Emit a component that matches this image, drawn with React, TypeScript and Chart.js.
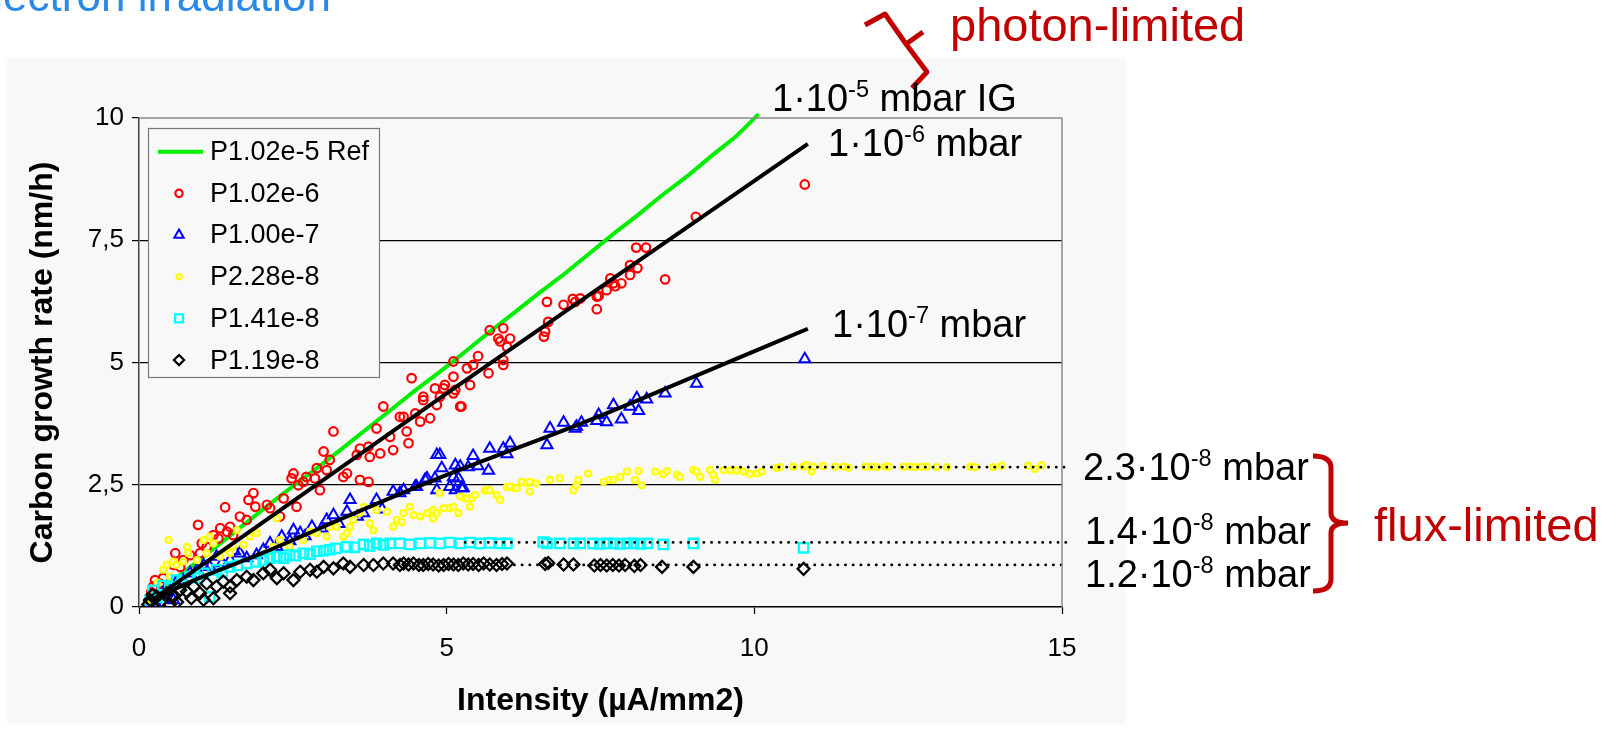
import React, { useEffect, useRef } from 'react';
import { Chart, registerables } from 'chart.js';

Chart.register(...registerables);

// ---------- tick labels ----------
const xTickLabels = ['0', '5', '10', '15'];
const yTickLabels = ['0', '2,5', '5', '7,5', '10'];

// ---------- series: P1.02e-5 Ref (green line) ----------
const refX = [0.2, 0.5, 0.9, 1.3, 1.7, 2.1, 2.5, 2.9, 3.3, 3.7, 4.1, 4.5, 4.9, 5.3, 5.7, 6.1, 6.5, 6.9, 7.3, 7.7, 8.1, 8.5, 8.9, 9.3, 9.7, 10.07];
const refY = [0.25, 0.5, 0.88, 1.28, 1.68, 2.08, 2.47, 2.85, 3.24, 3.64, 4.04, 4.44, 4.82, 5.22, 5.63, 6.02, 6.42, 6.8, 7.21, 7.62, 8.01, 8.42, 8.8, 9.22, 9.62, 10.08];

// ---------- P1.02e-6 (red circles) ----------
const p6X = [0.15, 0.2, 0.23, 0.26, 0.3, 0.34, 0.39, 0.45, 0.56, 0.59, 0.67, 0.72, 0.83, 0.96, 0.99, 1.02, 1.1, 1.21, 1.29, 1.32, 1.4, 1.43, 1.48, 1.53, 1.64, 1.75, 1.78, 1.86, 1.89, 2.08, 2.13, 2.29, 2.35, 2.48, 2.51, 2.56, 2.59, 2.67, 2.72, 2.86, 2.89, 2.94, 3.0, 3.05, 3.1, 3.16, 3.32, 3.38, 3.54, 3.59, 3.59, 3.73, 3.73, 3.75, 3.86, 3.92, 3.97, 4.08, 4.13, 4.24, 4.3, 4.35, 4.38, 4.43, 4.49, 4.57, 4.62, 4.62, 4.73, 4.81, 4.84, 4.89, 4.95, 4.97, 5.11, 5.11, 5.11, 5.14, 5.22, 5.24, 5.33, 5.38, 5.43, 5.51, 5.68, 5.7, 5.84, 5.87, 5.92, 5.92, 5.92, 5.98, 6.03, 6.58, 6.6, 6.65, 6.63, 6.9, 7.05, 7.09, 7.17, 7.44, 7.44, 7.47, 7.6, 7.66, 7.71, 7.74, 7.84, 7.98, 7.98, 8.1, 8.08, 8.24, 8.55, 9.05, 10.82];
const p6Y = [0.12, 0.3, 0.42, 0.55, 0.2, 0.48, 0.59, 0.35, 0.86, 1.1, 0.82, 0.96, 1.06, 1.68, 1.1, 1.3, 1.23, 1.47, 1.4, 1.61, 2.04, 1.54, 1.64, 1.47, 1.85, 1.78, 2.19, 2.33, 2.05, 2.09, 2.02, 1.85, 2.22, 2.63, 2.73, 2.05, 2.49, 2.56, 2.66, 2.63, 2.84, 2.39, 3.18, 2.8, 3.01, 3.59, 2.66, 2.73, 3.11, 3.24, 2.6, 3.28, 2.56, 3.07, 3.65, 3.14, 4.1, 3.48, 3.21, 3.89, 3.89, 3.59, 3.35, 4.68, 3.96, 3.79, 4.23, 4.3, 3.86, 4.47, 4.13, 4.3, 4.47, 4.54, 4.37, 4.71, 5.02, 4.44, 4.1, 4.1, 4.88, 4.54, 4.95, 5.13, 4.78, 5.66, 5.49, 5.43, 5.7, 5.05, 4.95, 5.32, 5.49, 5.53, 5.63, 5.83, 6.24, 6.18, 6.3, 6.24, 6.31, 6.35, 6.09, 6.36, 6.48, 6.72, 6.62, 6.56, 6.62, 6.79, 6.99, 6.93, 7.35, 7.35, 6.7, 7.98, 8.64];

// ---------- P1.00e-7 (blue triangles) ----------
const p7X = [0.18, 0.25, 0.3, 0.39, 0.45, 0.56, 0.6, 0.72, 0.83, 0.94, 1.05, 1.15, 1.26, 1.35, 1.48, 1.55, 1.64, 1.75, 1.91, 2.02, 2.13, 2.24, 2.32, 2.45, 2.51, 2.62, 2.7, 2.81, 2.97, 3.05, 3.16, 3.25, 3.38, 3.43, 3.55, 3.65, 3.86, 3.95, 4.13, 4.24, 4.3, 4.49, 4.51, 4.65, 4.68, 4.81, 4.84, 4.84, 4.89, 4.92, 5.05, 5.11, 5.14, 5.14, 5.19, 5.22, 5.24, 5.27, 5.35, 5.43, 5.51, 5.68, 5.7, 5.92, 5.98, 6.03, 6.63, 6.68, 6.9, 7.09, 7.11, 7.19, 7.44, 7.47, 7.6, 7.71, 7.84, 7.98, 8.09, 8.12, 8.25, 8.55, 9.06, 10.82];
const p7Y = [0.05, 0.15, 0.0, 0.28, 0.4, 0.14, 0.5, 0.55, 0.69, 0.76, 0.85, 0.82, 1.03, 0.9, 0.96, 1.15, 1.1, 1.0, 1.06, 1.17, 1.3, 1.23, 1.44, 1.35, 1.57, 1.51, 1.45, 1.64, 1.61, 1.78, 1.88, 1.7, 1.95, 2.19, 1.85, 1.92, 2.19, 2.0, 2.36, 2.33, 2.39, 2.46, 2.46, 2.6, 2.63, 2.63, 3.11, 2.39, 3.11, 2.84, 2.46, 2.66, 2.9, 2.39, 2.63, 2.87, 2.43, 2.43, 2.86, 3.09, 2.88, 2.79, 3.24, 3.24, 3.13, 3.35, 3.31, 3.65, 3.77, 3.65, 3.69, 3.77, 3.81, 3.93, 3.78, 4.13, 3.84, 4.1, 4.27, 4.01, 4.25, 4.37, 4.57, 5.07];

// ---------- P2.28e-8 (yellow dots) ----------
const p228X = [0.2, 0.3, 0.39, 0.45, 0.48, 0.5, 0.56, 0.61, 0.72, 0.78, 0.8, 0.94, 1.05, 1.1, 1.15, 1.21, 1.32, 1.43, 1.48, 1.53, 1.59, 1.7, 1.8, 1.91, 2.08, 2.18, 2.24, 2.29, 2.45, 2.67, 2.78, 2.89, 3.05, 3.1, 3.21, 3.32, 3.38, 3.43, 3.48, 3.59, 3.65, 3.75, 3.81, 3.86, 4.03, 4.13, 4.19, 4.27, 4.3, 4.4, 4.46, 4.57, 4.68, 4.78, 4.78, 4.84, 4.89, 4.95, 5.05, 5.11, 5.19, 5.22, 5.3, 5.33, 5.38, 5.41, 5.46, 5.62, 5.65, 5.7, 5.81, 5.87, 5.98, 6.03, 6.11, 6.14, 6.22, 6.3, 6.35, 6.35, 6.46, 6.68, 6.84, 7.06, 7.11, 7.14, 7.3, 7.55, 7.65, 7.71, 7.82, 7.93, 8.06, 8.12, 8.17, 8.39, 8.52, 8.58, 8.74, 8.79, 9.01, 9.06, 9.12, 9.28, 9.33, 9.36, 9.5, 9.61, 9.71, 9.82, 9.93, 10.04, 10.12, 10.36, 10.42, 10.63, 10.8, 10.85, 10.93, 10.96, 11.12, 11.31, 11.45, 11.53, 11.8, 11.91, 11.99, 12.13, 12.18, 12.42, 12.53, 12.61, 12.72, 12.8, 12.96, 13.13, 13.51, 13.59, 13.88, 14.02, 14.45, 14.56, 14.67];
const p228Y = [0.15, 0.5, 0.76, 0.86, 1.37, 0.62, 0.93, 0.86, 0.93, 1.23, 1.1, 0.96, 1.37, 1.1, 1.44, 1.3, 1.03, 1.17, 1.1, 1.23, 1.57, 1.27, 1.44, 1.51, 1.1, 1.23, 1.81, 1.37, 1.23, 1.37, 1.54, 1.51, 1.44, 1.64, 1.64, 1.44, 1.51, 1.64, 1.78, 1.92, 2.05, 1.71, 1.57, 1.98, 1.95, 1.64, 1.78, 1.74, 1.92, 2.05, 1.88, 1.85, 1.92, 1.98, 1.81, 1.92, 2.33, 2.02, 2.02, 2.05, 1.92, 2.26, 2.22, 2.22, 2.05, 2.22, 2.29, 2.38, 2.39, 2.39, 2.29, 2.19, 2.45, 2.46, 2.43, 2.43, 2.56, 2.53, 2.36, 2.56, 2.53, 2.6, 2.63, 2.39, 2.49, 2.6, 2.73, 2.56, 2.6, 2.6, 2.66, 2.77, 2.6, 2.78, 2.49, 2.77, 2.72, 2.78, 2.7, 2.66, 2.8, 2.77, 2.66, 2.8, 2.7, 2.6, 2.8, 2.79, 2.79, 2.77, 2.72, 2.73, 2.77, 2.84, 2.86, 2.87, 2.87, 2.9, 2.77, 2.87, 2.88, 2.87, 2.87, 2.85, 2.87, 2.87, 2.86, 2.87, 2.87, 2.87, 2.87, 2.86, 2.87, 2.87, 2.86, 2.86, 2.87, 2.86, 2.86, 2.89, 2.89, 2.82, 2.9];

// ---------- P1.41e-8 (cyan squares) ----------
const p141X = [0.18, 0.23, 0.3, 0.39, 0.5, 0.61, 0.7, 0.83, 0.95, 1.05, 1.15, 1.26, 1.35, 1.48, 1.6, 1.75, 1.9, 2.02, 2.13, 2.24, 2.35, 2.45, 2.55, 2.67, 2.78, 2.89, 3.0, 3.1, 3.2, 3.38, 3.5, 3.65, 3.75, 3.86, 3.97, 4.08, 4.24, 4.4, 4.57, 4.73, 4.89, 5.05, 5.22, 5.38, 5.54, 5.7, 5.87, 5.98, 6.57, 6.63, 6.84, 7.06, 7.17, 7.38, 7.49, 7.6, 7.71, 7.82, 7.93, 8.04, 8.15, 8.26, 8.52, 9.01, 10.8];
const p141Y = [0.14, 0.34, 0.2, 0.44, 0.4, 0.55, 0.5, 0.62, 0.6, 0.69, 0.21, 0.76, 0.7, 0.82, 0.85, 0.89, 0.92, 0.96, 1.0, 1.03, 1.0, 1.06, 1.05, 1.1, 1.08, 1.14, 1.15, 1.17, 1.2, 1.23, 1.22, 1.28, 1.25, 1.3, 1.27, 1.3, 1.3, 1.28, 1.3, 1.31, 1.3, 1.32, 1.3, 1.32, 1.3, 1.31, 1.3, 1.3, 1.33, 1.3, 1.3, 1.3, 1.3, 1.3, 1.29, 1.3, 1.3, 1.29, 1.3, 1.3, 1.29, 1.3, 1.28, 1.3, 1.21];

// ---------- P1.19e-8 (black diamonds) ----------
const p119X = [0.15, 0.18, 0.22, 0.29, 0.35, 0.45, 0.5, 0.56, 0.62, 0.67, 0.78, 0.85, 0.89, 0.99, 1.05, 1.1, 1.21, 1.26, 1.37, 1.48, 1.48, 1.59, 1.75, 1.86, 2.02, 2.13, 2.24, 2.35, 2.51, 2.62, 2.78, 2.89, 3.0, 3.16, 3.32, 3.43, 3.65, 3.81, 3.97, 4.13, 4.24, 4.3, 4.38, 4.46, 4.55, 4.62, 4.7, 4.78, 4.87, 4.95, 5.03, 5.11, 5.19, 5.27, 5.35, 5.43, 5.52, 5.6, 5.7, 5.81, 5.9, 5.98, 6.6, 6.65, 6.9, 7.06, 7.4, 7.5, 7.6, 7.7, 7.8, 7.9, 8.05, 8.15, 8.5, 9.01, 10.8];
const p119Y = [0.05, 0.14, 0.25, 0.21, 0.1, 0.28, 0.05, 0.21, 0.1, 0.35, 0.31, 0.18, 0.42, 0.28, 0.15, 0.48, 0.18, 0.42, 0.52, 0.28, 0.42, 0.55, 0.62, 0.55, 0.69, 0.76, 0.59, 0.69, 0.55, 0.72, 0.76, 0.72, 0.82, 0.79, 0.89, 0.82, 0.86, 0.86, 0.89, 0.89, 0.86, 0.89, 0.87, 0.89, 0.86, 0.86, 0.88, 0.87, 0.85, 0.86, 0.88, 0.87, 0.86, 0.89, 0.87, 0.88, 0.86, 0.89, 0.87, 0.86, 0.88, 0.89, 0.88, 0.9, 0.87, 0.87, 0.85, 0.86, 0.85, 0.86, 0.85, 0.86, 0.84, 0.86, 0.82, 0.82, 0.78];

// ---------- fit lines ----------
const fit6X = [0.2, 5.0, 10.87];
const fit6Y = [0.13, 4.37, 9.47];
const fit7X = [0.2, 0.4, 0.9, 2.0, 3.6, 5.0, 7.2, 9.0, 10.87];
const fit7Y = [0.1, 0.25, 0.55, 1.1, 1.97, 2.7, 3.76, 4.7, 5.69];

// ---------- dotted saturation levels ----------
const sat23X = [9.4, 15.1];
const sat23Y = [2.86, 2.86];
const sat14X = [5.3, 15.1];
const sat14Y = [1.32, 1.32];
const sat12X = [6.1, 15.1];
const sat12Y = [0.86, 0.86];

const legendLabels = ['P1.02e-5 Ref', 'P1.02e-6', 'P1.00e-7', 'P2.28e-8', 'P1.41e-8', 'P1.19e-8'];

const FONT = '"Liberation Sans", Arial, sans-serif';

const pts = (xs: number[], ys: number[]) => xs.map((x, i) => ({ x, y: ys[i] }));

function drawMarker(ctx: CanvasRenderingContext2D, style: string, x: number, y: number, r: number) {
  ctx.beginPath();
  if (style === 'circle') {
    ctx.arc(x, y, r, 0, Math.PI * 2);
  } else if (style === 'triangle') {
    for (let k = 0; k < 3; k++) {
      const a = -Math.PI / 2 + (k * 2 * Math.PI) / 3;
      const px = x + Math.cos(a) * r;
      const py = y + Math.sin(a) * r;
      if (k === 0) ctx.moveTo(px, py); else ctx.lineTo(px, py);
    }
    ctx.closePath();
  } else if (style === 'rect') {
    const s = r * Math.SQRT1_2;
    ctx.rect(x - s, y - s, 2 * s, 2 * s);
  } else if (style === 'rectRot') {
    ctx.moveTo(x, y - r);
    ctx.lineTo(x + r, y);
    ctx.lineTo(x, y + r);
    ctx.lineTo(x - r, y);
    ctx.closePath();
  }
}

const decor = {
  id: 'decor',
  beforeDraw(chart: any) {
    const ctx = chart.ctx;
    ctx.save();
    ctx.fillStyle = '#f8f8f8';
    ctx.fillRect(7, 58, 1119, 666);
    ctx.restore();
  },
  afterDatasetsDraw(chart: any) {
    const ctx = chart.ctx;
    const a = chart.chartArea;
    ctx.save();
    ctx.strokeStyle = '#8a8a8a';
    ctx.lineWidth = 1.5;
    ctx.beginPath();
    ctx.moveTo(a.left, a.top);
    ctx.lineTo(a.right, a.top);
    ctx.lineTo(a.right, a.bottom);
    ctx.stroke();

    // legend
    const lx = 148, ly = 128, lw = 231, lh = 249;
    ctx.fillStyle = '#f8f8f8';
    ctx.fillRect(lx, ly, lw, lh);
    ctx.strokeStyle = '#7a7a7a';
    ctx.lineWidth = 1.2;
    ctx.strokeRect(lx + 0.5, ly + 0.5, lw, lh);
    const ds = chart.data.datasets;
    for (let i = 0; i < legendLabels.length; i++) {
      const cy = 151.7 + i * 41.67;
      const d = ds[i];
      if (i === 0) {
        ctx.strokeStyle = d.borderColor;
        ctx.lineWidth = 4;
        ctx.beginPath();
        ctx.moveTo(158, cy);
        ctx.lineTo(203, cy);
        ctx.stroke();
      } else {
        ctx.strokeStyle = d.pointBorderColor;
        ctx.fillStyle = d.pointBackgroundColor;
        ctx.lineWidth = d.pointBorderWidth;
        drawMarker(ctx, d.pointStyle, 179, cy, d.pointRadius * 0.85);
        ctx.fill();
        ctx.stroke();
      }
      ctx.fillStyle = '#000';
      ctx.font = '27px ' + FONT;
      ctx.textBaseline = 'middle';
      ctx.textAlign = 'left';
      ctx.fillText(legendLabels[i], 210, cy + 1);
    }
    ctx.restore();
  },
  afterDraw(chart: any) {
    const ctx = chart.ctx;
    ctx.save();
    ctx.strokeStyle = '#c00000';
    ctx.lineWidth = 5;
    ctx.lineJoin = 'round';
    ctx.lineCap = 'butt';
    // photon-limited brace (tilted)
    ctx.beginPath();
    ctx.moveTo(865, 25);
    ctx.lineTo(885, 14);
    ctx.lineTo(906, 44);
    ctx.lineTo(927, 72);
    ctx.lineTo(912, 88);
    ctx.moveTo(906, 44);
    ctx.lineTo(923, 32);
    ctx.stroke();
    // flux-limited brace
    ctx.beginPath();
    ctx.moveTo(1313, 456);
    ctx.quadraticCurveTo(1331, 456, 1331, 468);
    ctx.lineTo(1331, 513);
    ctx.quadraticCurveTo(1331, 523, 1348, 523);
    ctx.moveTo(1348, 523);
    ctx.quadraticCurveTo(1331, 523, 1331, 533);
    ctx.lineTo(1331, 579);
    ctx.quadraticCurveTo(1331, 591, 1313, 591);
    ctx.stroke();
    ctx.restore();
  },
};

const Sup = ({ t }: { t: string }) => (
  <span style={{ fontSize: '0.62em', verticalAlign: '14px', lineHeight: 0 }}>{t}</span>
);

const annStyle = (left: number, top: number, size: number, color: string): React.CSSProperties => ({
  position: 'absolute',
  left,
  top,
  fontFamily: FONT,
  fontSize: size,
  lineHeight: 1,
  color,
  whiteSpace: 'nowrap',
});

export default function App() {
  const ref = useRef<HTMLCanvasElement | null>(null);

  useEffect(() => {
    if (!ref.current) return;
    const chart = new Chart(ref.current, {
      type: 'scatter',
      data: {
        datasets: [
          {
            label: 'P1.02e-5 Ref', data: pts(refX, refY), showLine: true,
            borderColor: '#00ee00', borderWidth: 4, pointRadius: 0, order: 9, clip: false,
          } as any,
          {
            label: 'P1.02e-6', data: pts(p6X, p6Y), pointStyle: 'circle', pointRadius: 4.3,
            pointBorderColor: '#ff0000', pointBackgroundColor: 'rgba(0,0,0,0)', pointBorderWidth: 2.2, order: 8,
          },
          {
            label: 'P1.00e-7', data: pts(p7X, p7Y), pointStyle: 'triangle', pointRadius: 6.4,
            pointBorderColor: '#0000ff', pointBackgroundColor: 'rgba(0,0,0,0)', pointBorderWidth: 2, order: 7,
          },
          {
            label: 'P2.28e-8', data: pts(p228X, p228Y), pointStyle: 'circle', pointRadius: 3.1,
            pointBorderColor: '#ffff00', pointBackgroundColor: '#ffffa8', pointBorderWidth: 2, order: 6,
          },
          {
            label: 'P1.41e-8', data: pts(p141X, p141Y), pointStyle: 'rect', pointRadius: 6.6,
            pointBorderColor: '#00ffff', pointBackgroundColor: 'rgba(0,0,0,0)', pointBorderWidth: 2.3, order: 5,
          },
          {
            label: 'P1.19e-8', data: pts(p119X, p119Y), pointStyle: 'rectRot', pointRadius: 6,
            pointBorderColor: '#000000', pointBackgroundColor: 'rgba(0,0,0,0)', pointBorderWidth: 2.2, order: 4,
          },
          {
            label: 'fit 1e-6', data: pts(fit6X, fit6Y), showLine: true, borderColor: '#000', borderWidth: 4,
            pointRadius: 0, order: 3, clip: false,
          } as any,
          {
            label: 'fit 1e-7', data: pts(fit7X, fit7Y), showLine: true, borderColor: '#000', borderWidth: 4,
            pointRadius: 0, order: 3, cubicInterpolationMode: 'monotone', clip: false,
          } as any,
          {
            label: 'sat 2.3e-8', data: pts(sat23X, sat23Y), showLine: true, borderColor: '#000', borderWidth: 2.8,
            borderDash: [0.1, 7.6], borderCapStyle: 'round', pointRadius: 0, order: 1, clip: false,
          } as any,
          {
            label: 'sat 1.4e-8', data: pts(sat14X, sat14Y), showLine: true, borderColor: '#000', borderWidth: 2.8,
            borderDash: [0.1, 7.6], borderCapStyle: 'round', pointRadius: 0, order: 1, clip: false,
          } as any,
          {
            label: 'sat 1.2e-8', data: pts(sat12X, sat12Y), showLine: true, borderColor: '#000', borderWidth: 2.8,
            borderDash: [0.1, 7.6], borderCapStyle: 'round', pointRadius: 0, order: 1, clip: false,
          } as any,
        ],
      },
      options: {
        responsive: false,
        animation: false,
        devicePixelRatio: 1,
        events: [],
        layout: { padding: { left: 0, right: 548, top: 118, bottom: 0 } },
        plugins: { legend: { display: false }, tooltip: { enabled: false } },
        scales: {
          x: {
            type: 'linear', min: 0, max: 15,
            ticks: {
              stepSize: 5, color: '#000', padding: 19,
              font: { family: FONT, size: 26 },
              callback: (_v: any, i: number) => xTickLabels[i],
            },
            grid: { drawOnChartArea: false, drawTicks: true, tickLength: 7, tickColor: '#000', tickWidth: 1.2 },
            border: { color: '#000', width: 1.5 },
            title: {
              display: true, text: 'Intensity (µA/mm2)', color: '#000',
              font: { family: FONT, size: 32, weight: 'bold' }, padding: { top: 0, bottom: 10 },
            },
            afterFit: (s: any) => { s.height = 123; },
          },
          y: {
            type: 'linear', min: 0, max: 10,
            ticks: {
              stepSize: 2.5, color: '#000', padding: 8,
              font: { family: FONT, size: 26 },
              callback: (_v: any, i: number) => yTickLabels[i],
            },
            grid: {
              color: (c: any) => (c.tick && (c.tick.value === 0 || c.tick.value === 10) ? 'rgba(0,0,0,0)' : '#000'),
              lineWidth: 1.2, drawTicks: true, tickLength: 7, tickColor: '#000', tickWidth: 1.2,
            },
            border: { color: '#444', width: 1.5 },
            title: {
              display: true, text: 'Carbon growth rate (nm/h)', color: '#000',
              font: { family: FONT, size: 32, weight: 'bold' }, padding: { top: 24, bottom: 0 },
            },
            afterFit: (s: any) => { s.width = 139; },
          },
        },
      } as any,
      plugins: [decor],
    });
    return () => chart.destroy();
  }, []);

  return (
    <div style={{ position: 'absolute', left: 0, top: 0, width: 1610, height: 730, overflow: 'hidden', background: '#fff' }}>
      <canvas ref={ref} width={1610} height={730} style={{ position: 'absolute', left: 0, top: 0, width: 1610, height: 730 }} />
      <div style={annStyle(-36, -26, 44, '#2a8ae6')}>Electron irradiation</div>
      <div style={annStyle(950, 1, 47, '#c00000')}>photon-limited</div>
      <div style={annStyle(1374, 501, 47, '#c00000')}>flux-limited</div>
      <div style={annStyle(772, 79, 38, '#000')}>1·10<Sup t="-5" /> mbar IG</div>
      <div style={annStyle(828, 124, 38, '#000')}>1·10<Sup t="-6" /> mbar</div>
      <div style={annStyle(832, 305, 38, '#000')}>1·10<Sup t="-7" /> mbar</div>
      <div style={annStyle(1083, 448, 38, '#000')}>2.3·10<Sup t="-8" /> mbar</div>
      <div style={annStyle(1085, 512, 38, '#000')}>1.4·10<Sup t="-8" /> mbar</div>
      <div style={annStyle(1085, 555, 38, '#000')}>1.2·10<Sup t="-8" /> mbar</div>
    </div>
  );
}
